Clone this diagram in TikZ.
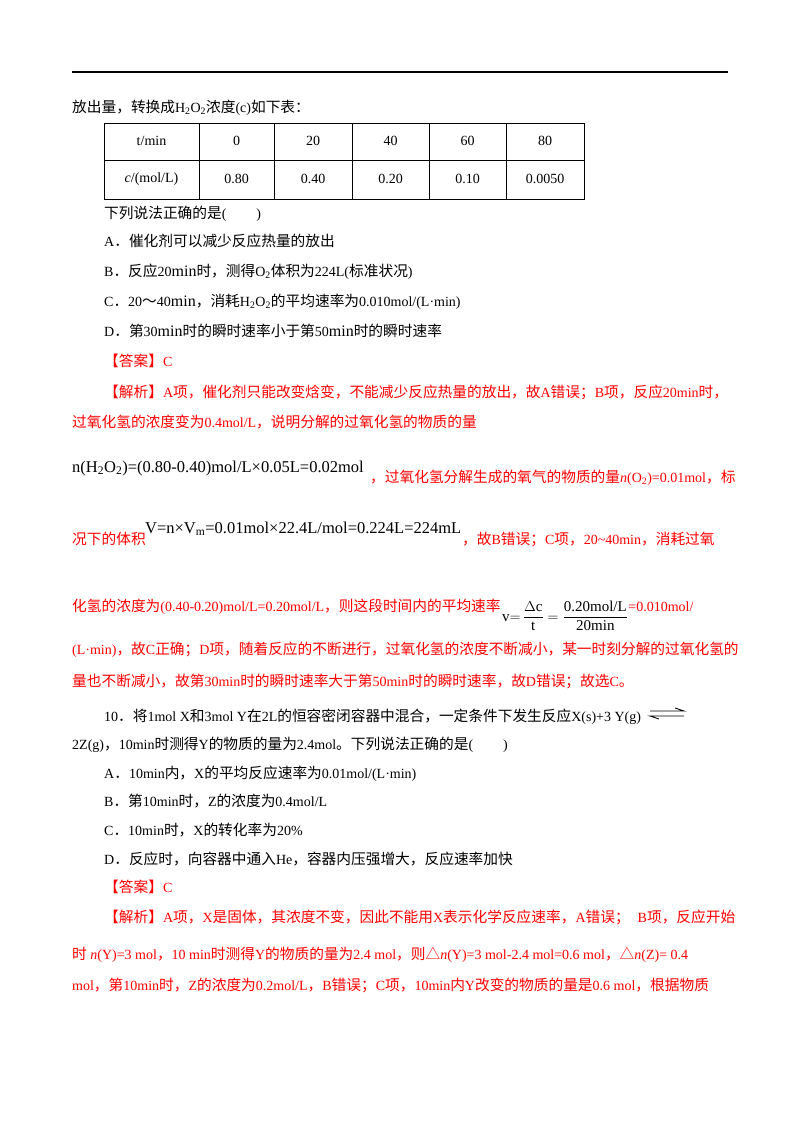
\documentclass[tikz,border=0pt]{standalone}
\usepackage{fontspec}
\setmainfont{Liberation Serif}
\newfontfamily\cjk[Scale=1.05]{Noto Sans CJK SC}
\newcommand\z[1]{{\cjk #1}}
\definecolor{rd}{RGB}{255,0,0}
\tikzset{ln/.style={anchor=base west,inner sep=0pt,font=\fontsize{14}{16}\selectfont},
 cell/.style={inner sep=0pt,font=\fontsize{14}{16}\selectfont}}
\begin{document}
\begin{tikzpicture}[x=1pt,y=-1pt]
\useasboundingbox[fill=white] (0,0) rectangle (800,1132);
\draw[line width=1.8pt] (72,72) -- (728,72);
\node[ln] (l1) at (72,112) {\z{放出量，转换成}H\textsubscript{2}O\textsubscript{2}\z{浓度}(c)\z{如下表：}};
% table
\draw[line width=0.8pt] (104,123) rectangle (584,199);
\draw[line width=0.8pt] (104,160) -- (584,160);
\foreach \xx in {199,274,352,429,506} \draw[line width=0.8pt] (\xx,123) -- (\xx,199);
\node[cell] (h0) at (151.5,141) {t/min};
\node[cell] (h1) at (236.5,141) {0};
\node[cell] (h2) at (313,141) {20};
\node[cell] (h3) at (390.5,141) {40};
\node[cell] (h4) at (467.5,141) {60};
\node[cell] (h5) at (545,141) {80};
\node[cell] (c0) at (151.5,179) {\emph{c}/(mol/L)};
\node[cell] (c1) at (236.5,179) {0.80};
\node[cell] (c2) at (313,179) {0.40};
\node[cell] (c3) at (390.5,179) {0.20};
\node[cell] (c4) at (467.5,179) {0.10};
\node[cell] (c5) at (545,179) {0.0050};
\node[ln] (q) at (104,218) {\z{下列说法正确的是}(\hspace{30pt})};
\node[ln] (qa) at (104,246) {A\z{．催化剂可以减少反应热量的放出}};
\node[ln] (qb) at (104,276) {B\z{．反应}20{\fontsize{16}{16}\selectfont min}\z{时，测得}O\textsubscript{2}\z{体积为}224L(\z{标准状况})};
\node[ln] (qc) at (104,306) {C\z{．}20\z{～}40{\fontsize{16}{16}\selectfont min}\z{，消耗}H\textsubscript{2}O\textsubscript{2}\z{的平均速率为}0.010mol/(L·min)};
\node[ln] (qd) at (104,336) {D\z{．第}30{\fontsize{16}{16}\selectfont min}\z{时的瞬时速率小于第}50{\fontsize{16}{16}\selectfont min}\z{时的瞬时速率}};
\node[ln,text=rd] (ans1) at (104,366) {\z{【答案】}C};
\node[ln,text=rd] (r1) at (104,397) {\z{【解析】}A\z{项，催化剂只能改变焓变，不能减少反应热量的放出，故}A\z{错误；}B\z{项，反应}20min\z{时，}};
\node[ln,text=rd] (r2) at (72,427) {\z{过氧化氢的浓度变为}0.4mol/L\z{，说明分解的过氧化氢的物质的量}};
\node[ln,font=\fontsize{16.5}{18}\selectfont] (f1) at (72,472) {n(H\textsubscript{2}O\textsubscript{2})=(0.80-0.40)mol/L×0.05L=0.02mol};
\node[ln,text=rd] (r3) at (370,482) {\z{，过氧化氢分解生成的氧气的物质的量}\emph{n}(O\textsubscript{2})=0.01mol\z{，标}};
\node[ln,text=rd] (r4a) at (72,544) {\z{况下的体积}};
\node[ln,font=\fontsize{16.5}{18}\selectfont] (f2) at (145,533) {V=n×V\textsubscript{m}=0.01mol×22.4L/mol=0.224L=224mL};
\node[ln,text=rd] (r4b) at (462,544) {\z{，故}B\z{错误；}C\z{项，}20\textasciitilde40min\z{，消耗过氧}};
\node[ln,text=rd] (r5a) at (72,611) {\z{化氢的浓度为}(0.40-0.20)mol/L=0.20mol/L\z{，则这段时间内的平均速率}};
\node[anchor=west,inner sep=0pt,font=\fontsize{15}{17}\selectfont] (f3) at ([xshift=1pt,yshift=-5pt]r5a.base east) {$\displaystyle\mathrm{v}{=}\,\frac{\Delta\mathrm{c}}{\mathrm{t}}=\frac{\mbox{0.20mol/L}}{\mbox{20min}}$};
\node[ln,text=rd,anchor=base west] (r5b) at (f3.east|-r5a.base) {=0.010mol/};
\node[ln,text=rd] (r6) at (72,654) {(L·min)\z{，故}C\z{正确；}D\z{项，随着反应的不断进行，过氧化氢的浓度不断减小，某一时刻分解的过氧化氢的}};
\node[ln,text=rd] (r7) at (72,686) {\z{量也不断减小，故第}30min\z{时的瞬时速率大于第}50min\z{时的瞬时速率，故}D\z{错误；故选}C\z{。}};
\node[ln] (t1) at (104,721) {10\z{．将}1mol X\z{和}3mol Y\z{在}2L\z{的恒容密闭容器中混合，一定条件下发生反应}X(s)+3 Y(g)};
\coordinate (e1) at (650,711); \coordinate (e2) at (684,711);
\coordinate (e3) at (650,716); \coordinate (e4) at (684,716);
\draw[line width=0.9pt] (e1) -- (e2) -- ++(-9,-3);
\draw[line width=0.9pt] (e4) -- (e3) -- ++(9,3);
\node[ln] (t2) at (72,749) {2Z(g)\z{，}10min\z{时测得}Y\z{的物质的量为}2.4mol\z{。下列说法正确的是}(\hspace{30pt})};
\node[ln] (ta) at (104,778) {A\z{．}10min\z{内，}X\z{的平均反应速率为}0.01mol/(L·min)};
\node[ln] (tb) at (104,806) {B\z{．第}10min\z{时，}Z\z{的浓度为}0.4mol/L};
\node[ln] (tc) at (104,835) {C\z{．}10min\z{时，}X\z{的转化率为}20\%};
\node[ln] (td) at (104,864) {D\z{．反应时，向容器中通入}He\z{，容器内压强增大，反应速率加快}};
\node[ln,text=rd] (ans2) at (104,892) {\z{【答案】}C};
\node[ln,text=rd] (s1) at (104,922) {\z{【解析】}A\z{项，}X\z{是固体，其浓度不变，因此不能用}X\z{表示化学反应速率，}A\z{错误；}\hspace{8pt}B\z{项，反应开始}};
\node[ln,text=rd] (s2) at (72,959) {\z{时} \emph{n}(Y)=3 mol\z{，}10 min\z{时测得}Y\z{的物质的量为}2.4 mol\z{，则△}\emph{n}(Y)=3 mol-2.4 mol=0.6 mol\z{，△}\emph{n}(Z)= 0.4};
\node[ln,text=rd] (s3) at (72,990) {mol\z{，第}10min\z{时，}Z\z{的浓度为}0.2mol/L\z{，}B\z{错误；}C\z{项，}10min\z{内}Y\z{改变的物质的量是}0.6 mol\z{，根据物质}};
\end{tikzpicture}
\end{document}
